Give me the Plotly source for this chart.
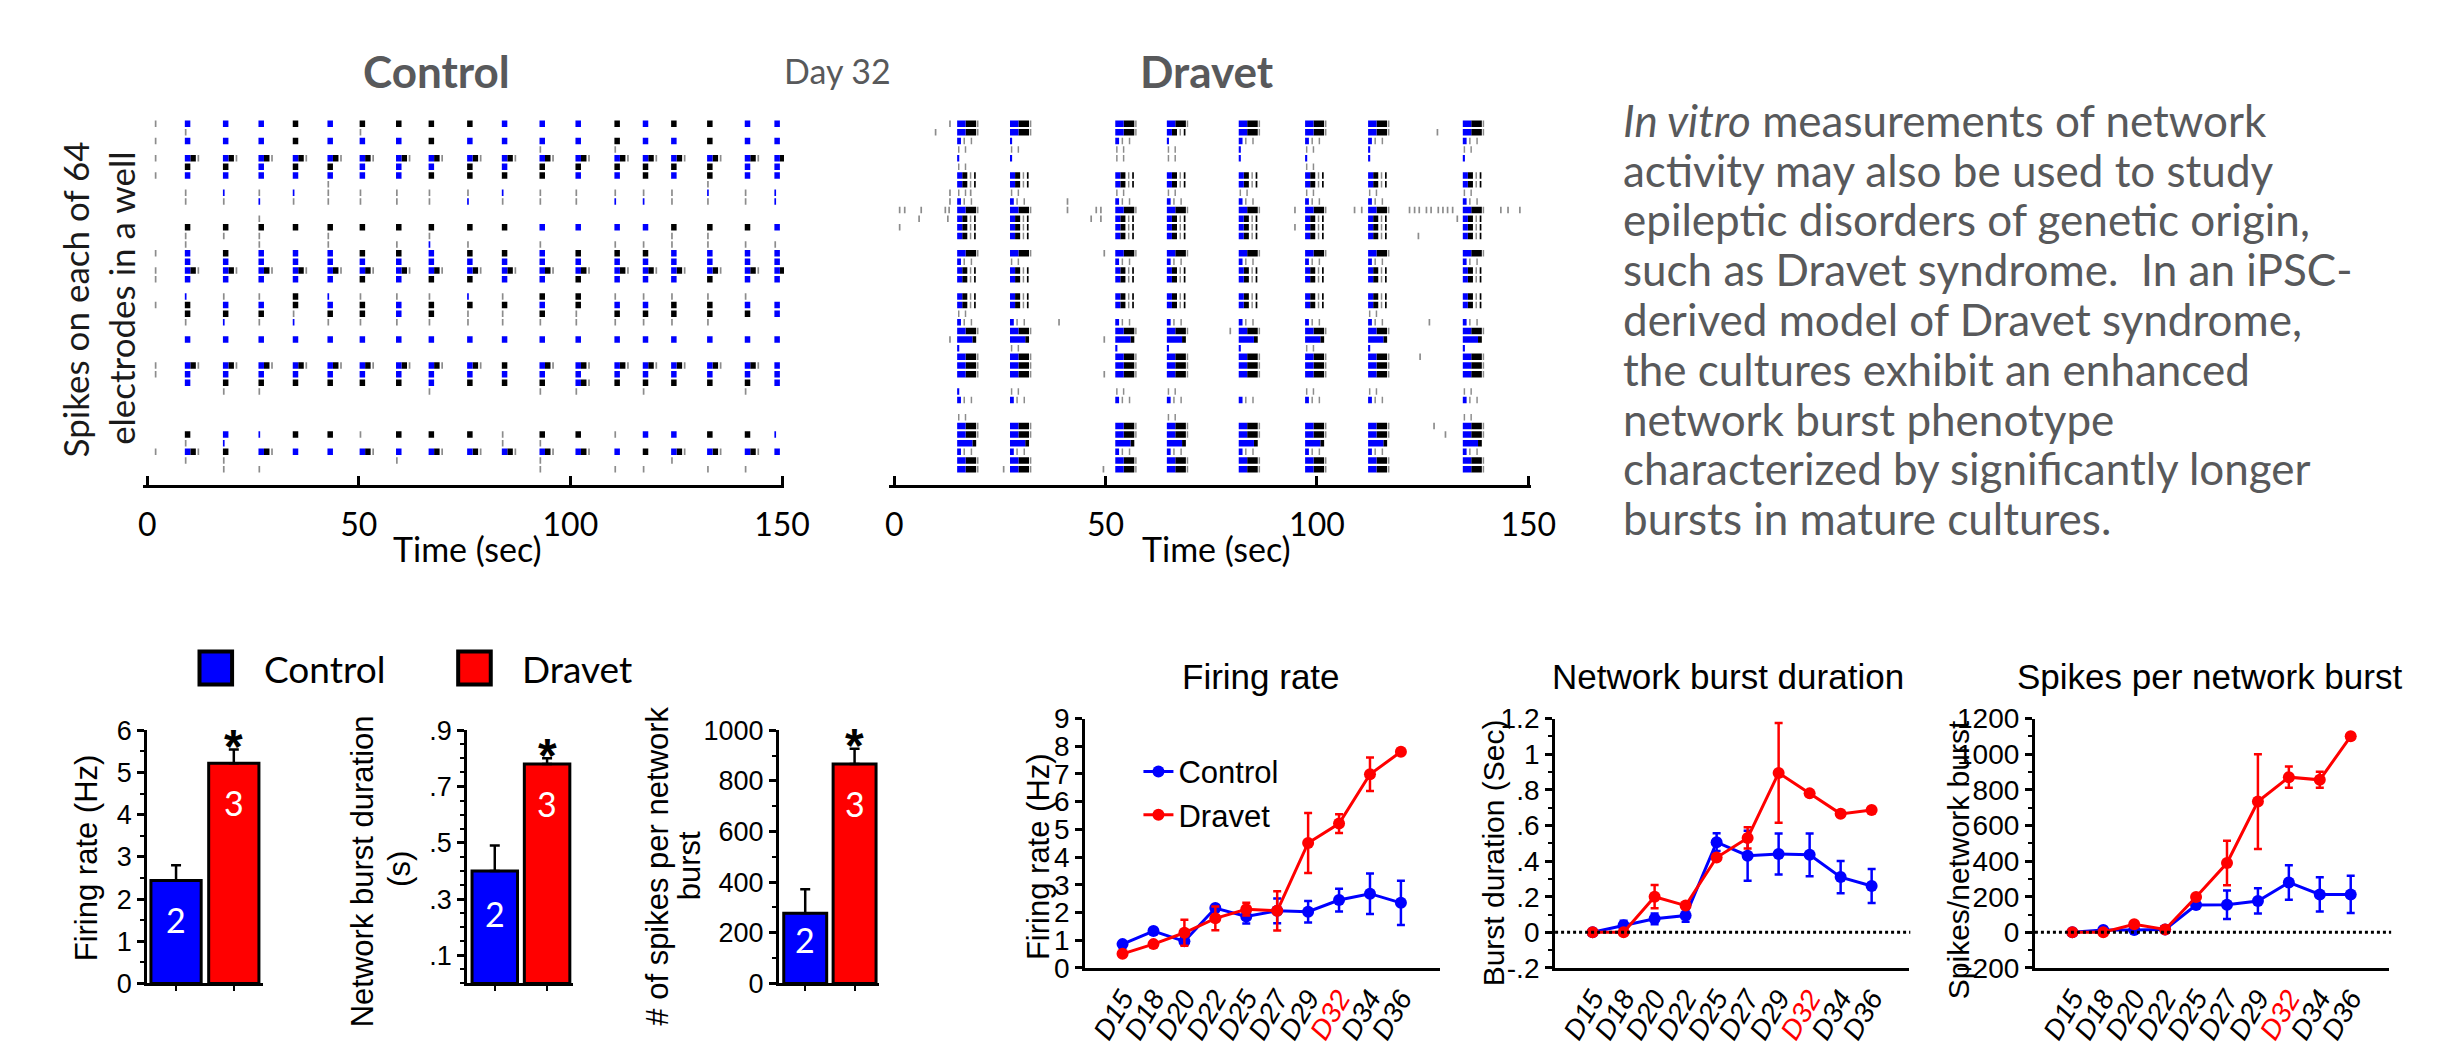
import plotly.graph_objects as go

W, H = 2444, 1048


def px(x):
    return x / W


def py(y):
    return 1 - y / H


# ---------------- data: raster plots ----------------
time_ticks = [0, 50, 100, 150]

control_burst_times = [8.9, 17.9, 26.3, 34.4, 42.6, 50.2, 58.8, 66.5, 75.6, 83.8,
                       92.7, 101.2, 110.4, 117.1, 123.8, 132.3, 141.2, 148.2]
control_rows = [0, 1, 2, 3, 4, 5, 6, 7, 8, 9, 11, 12, 13, 14, 15, 16, 17, 18,
                20, 21, 22, 23, 25, 28, 29, 30, 31, 36, 37, 38, 39, 40]
control_patterns = [
    "BBBKBKKKKBBBKBKKBB",
    "g....g............",
    "BBBKBBBKBBBBKBBKBB",
    "..........g.g.....",
    "MMMMMMMMMMMMMMMMMM",
    "KKBKKBBBKBKKKKKKBB",
    "BBBBBBBKKKKBBKBKBB",
    "....g..........g..",
    "gbgbgggggbgggggbgb",
    "ggbgggggbgggbbgggb",
    "..g...............",
    "KKKKKKKKKKBBBBKKKB",
    "ggg.g..g......gg..",
    "g.g.g.gbg.g.gggggg",
    "BKBBBKKBKKBKKKBBBB",
    "BBBBBBBBBBBBBBBBBB",
    "MMMMMMMMMMMMMMMMMM",
    "BBBBBKBKKBBKBBBKBB",
    "bggKbgggbgKKggggg.",
    "KBBKBKBKKKBKBBKKBB",
    "KKKgKKBKggKgKKKKKB",
    "gbgbgggggggggggg..",
    "BBBBBBBBBBBBBBBBBB",
    "MMMMMMMMMKMMMMMMMB",
    "BBBBBBBBBBBBBBBBBB",
    "BKKKKKKBKKKMKKKKKB",
    ".gg....g..gg.g..g.",
    "KBbKKgKKKgKKgBBKKb",
    "gb.......gg.......",
    "MKMBBMBMMMMMBKMMMB",
    "gg....g...g...g...",
    ".gg.......g.gg.gg.",
]
control_extra_times = [1.8, 1.8, 1.8, 1.8, 1.8, 1.8, 1.8, 1.8, 1.8, 1.8, 1.8]
control_extra_rows = [0, 2, 4, 6, 15, 17, 18, 21, 28, 29, 38]

dravet_burst_times = [14.9, 27.4, 52.3, 64.5, 81.5, 97.2, 112.1, 134.5]
dravet_rows = [0, 1, 2, 3, 4, 5, 6, 7, 8, 9, 10, 11, 12, 13, 15, 16, 17, 18, 20,
               21, 22, 23, 24, 25, 26, 27, 28, 29, 31, 32, 34, 35, 36, 37, 38, 39, 40]
dravet_patterns = [
    "FFFFFFFF", "FFFHFFFF", "LbLbLLLL", "ttttbtbt", "bbttbbbb", "t....t..",
    "HHHHHHHH", "HHHHHHHH", "tttttttt", "LLLLLLLL", "FFFFFFFF", "HHHHHHHH",
    "HHHHHHHH", "HHHHHHHH", "FFFFFFFF", "LtLLLLLL", "HHHHHHHH", "HHHHHHHH",
    "HHHHHHHH", "HHHHHHHH", "t.....t.", "LLLLLLLL", "FFFFFFFF", "XXXXXXXX",
    "btbbbtbb", "FFFFFFFF", "FFFFFFFF", "FFFFFFFF", "bttt.ttt", "LLLLLLLL",
    "t..t...t", "FFFFFFFF", "FFFFFFFF", "XXXXXXXX", "LLLLLLLL", "FFFFFFFF",
    "FFFFFFFF",
]
dravet_extra_times = [1.1, 2.3, 6.2, 11.9, 12.8, 40.8, 47.6, 48.7, 94.6, 108.7, 110.4,
                      121.7, 122.9, 124.0, 125.7, 126.8, 128.5, 129.6, 130.7, 131.9,
                      143.3, 145.0, 147.8, 5.7, 12.5, 46.4, 48.7, 133.0, 1.1, 94.6,
                      13.0, 40.8, 13.0, 17.9, 9.6, 128.3, 13.0, 123.8, 49.5, 38.8,
                      126.4, 79.3, 13.0, 49.5, 124.2, 49.5, 127.5, 130.2, 25.7, 49.3]
dravet_extra_rows = [10, 10, 10, 10, 10, 10, 10, 10, 10, 10, 10,
                     10, 10, 10, 10, 10, 10, 10, 10, 10,
                     10, 10, 10, 11, 11, 11, 11, 11, 12, 12,
                     9, 9, 8, 8, 1, 1, 0, 13, 15, 23,
                     23, 24, 25, 25, 27, 29, 35, 36, 40, 40]

# ---------------- data: bar charts ----------------
groups = ["Control", "Dravet"]
group_n = ["2", "3"]
bar_fr = [2.44, 5.22]
bar_fr_err = [0.36, 0.32]
bar_bd = [0.40, 0.78]
bar_bd_err = [0.09, 0.02]
bar_sp = [277, 867]
bar_sp_err = [95, 60]

# ---------------- data: time courses ----------------
days = ["D15", "D18", "D20", "D22", "D25", "D27", "D29", "D32", "D34", "D36"]
fr_control = [0.86, 1.33, 0.96, 2.16, 1.86, 2.06, 2.03, 2.45, 2.68, 2.35]
fr_control_err = [0.05, 0.05, 0.10, 0.10, 0.26, 0.45, 0.39, 0.41, 0.73, 0.80]
fr_dravet = [0.51, 0.86, 1.27, 1.79, 2.12, 2.06, 4.51, 5.21, 6.99, 7.80]
fr_dravet_err = [0.05, 0.05, 0.47, 0.43, 0.23, 0.71, 1.08, 0.34, 0.60, 0.05]

bd_control = [0.0, 0.04, 0.076, 0.094, 0.506, 0.43, 0.44, 0.435, 0.31, 0.26]
bd_control_err = [0.01, 0.025, 0.03, 0.035, 0.05, 0.14, 0.115, 0.12, 0.09, 0.095]
bd_dravet = [0.0, 0.0, 0.20, 0.15, 0.42, 0.53, 0.895, 0.78, 0.665, 0.687]
bd_dravet_err = [0.005, 0.005, 0.065, 0.01, 0.01, 0.06, 0.28, 0.01, 0.01, 0.015]

sp_control = [0, 13, 13, 16, 153, 155, 176, 280, 213, 213]
sp_control_err = [3, 5, 10, 8, 10, 80, 71, 97, 96, 104]
sp_dravet = [0, 0, 45, 16, 198, 389, 734, 871, 856, 1100]
sp_dravet_err = [2, 2, 10, 5, 10, 125, 266, 60, 45, 5]

highlight_day = "D32"

paragraph_lines = [
    "<i>In vitro</i> measurements of network",
    "activity may also be used to study",
    "epileptic disorders of genetic origin,",
    "such as Dravet syndrome.&nbsp; In an iPSC-",
    "derived model of Dravet syndrome,",
    "the cultures exhibit an enhanced",
    "network burst phenotype",
    "characterized by significantly longer",
    "bursts in mature cultures.",
]

# ---------------- styles ----------------
BLUE = "#0000ff"
RED = "#ff0000"
GRAY_TXT = "#58595b"
COLORS = {"gray": "#8c8c8c", "black": "#000000", "blue": BLUE}
ARIAL = "Liberation Sans, Arial, sans-serif"
CAL = "Lato, sans-serif"

CONTROL_MARKS = {
    "B": [("blue", 0.0, 1.3)],
    "K": [("black", 0.0, 1.3)],
    "M": [("blue", 0.0, 1.3), ("black", 1.3, 2.6), ("gray", 3.0, 3.4)],
    "g": [("gray", 0.0, 0.4)],
    "b": [("blue", 0.0, 0.4)],
}
DRAVET_MARKS = {
    "F": [("blue", 0.0, 2.0), ("black", 2.0, 4.5), ("gray", 4.7, 5.05)],
    "H": [("blue", 0.0, 1.2), ("black", 1.2, 2.4), ("gray", 3.0, 3.35), ("black", 4.0, 4.4)],
    "L": [("blue", 0.0, 0.9), ("gray", 1.5, 1.85), ("gray", 3.2, 3.55)],
    "X": [("blue", 0.0, 3.6), ("black", 3.6, 4.5)],
    "t": [("gray", 0.2, 0.55), ("gray", 1.8, 2.15)],
    "b": [("blue", 0.0, 0.5)],
}


def raster_traces(burst_times, rows, patterns, extra_t, extra_r, marks, xa, ya):
    segs = {"gray": ([], []), "black": ([], []), "blue": ([], [])}
    for r, pat in zip(rows, patterns):
        for t, ch in zip(burst_times, pat):
            for color, a, b in marks.get(ch, []):
                xs, ys = segs[color]
                xs += [t + a, t + b, None]
                ys += [r, r, None]
    for t, r in zip(extra_t, extra_r):
        xs, ys = segs["gray"]
        xs += [t, t + 0.4, None]
        ys += [r, r, None]
    out = []
    for color, (xs, ys) in segs.items():
        out.append(go.Scatter(x=xs, y=ys, mode="lines",
                              line=dict(color=COLORS[color], width=6.5, simplify=False),
                              xaxis=xa, yaxis=ya, showlegend=False, hoverinfo="skip"))
    return out


fig = go.Figure()

for tr in raster_traces(control_burst_times, control_rows, control_patterns,
                        control_extra_times, control_extra_rows, CONTROL_MARKS, "x", "y"):
    fig.add_trace(tr)
for tr in raster_traces(dravet_burst_times, dravet_rows, dravet_patterns,
                        dravet_extra_times, dravet_extra_rows, DRAVET_MARKS, "x2", "y2"):
    fig.add_trace(tr)

# bars
bar_sets = [(bar_fr, bar_fr_err, "x3", "y3"), (bar_bd, bar_bd_err, "x4", "y4"),
            (bar_sp, bar_sp_err, "x5", "y5")]
for vals, errs, xa, ya in bar_sets:
    fig.add_trace(go.Bar(
        x=groups, y=vals, width=0.87,
        marker=dict(color=[BLUE, RED], line=dict(color="black", width=3)),
        error_y=dict(type="data", array=errs, arrayminus=[0, 0], symmetric=False,
                     color="black", thickness=2.5, width=5),
        xaxis=xa, yaxis=ya, showlegend=False, hoverinfo="skip"))

# time courses
line_sets = [
    (fr_control, fr_control_err, fr_dravet, fr_dravet_err, "x6", "y6", True),
    (bd_control, bd_control_err, bd_dravet, bd_dravet_err, "x7", "y7", False),
    (sp_control, sp_control_err, sp_dravet, sp_dravet_err, "x8", "y8", False),
]
for c, ce, d, de, xa, ya, show in line_sets:
    for name, vals, errs, col in [("Control", c, ce, BLUE), ("Dravet", d, de, RED)]:
        fig.add_trace(go.Scatter(
            x=days, y=vals, name=name, mode="lines+markers",
            line=dict(color=col, width=3), marker=dict(color=col, size=12),
            error_y=dict(type="data", array=errs, color=col, thickness=2.5, width=4),
            xaxis=xa, yaxis=ya, showlegend=show, legend="legend", hoverinfo="skip"))

# ---------------- axes ----------------
raster_x = dict(showline=True, linewidth=3, linecolor="black", ticks="inside", ticklen=9,
                tickwidth=3, tickcolor="black", tickvals=time_ticks, showgrid=False,
                zeroline=False, tickfont=dict(family=CAL, size=32, color="black"),
                ticklabelstandoff=10)
raster_y = dict(visible=False, range=[41.8, -0.9], domain=[py(484), py(104)])

bar_x = dict(showline=True, linewidth=3, linecolor="black", ticks="outside", ticklen=5,
             tickwidth=2, tickcolor="black", showticklabels=False, showgrid=False,
             zeroline=False, type="category")
bar_y_common = dict(showline=True, linewidth=3, linecolor="black", ticks="outside",
                    ticklen=7, tickwidth=2.5, tickcolor="black", showgrid=False,
                    zeroline=False, domain=[py(998), py(737)],
                    tickfont=dict(family=ARIAL, size=27, color="black"))

day_text = [f"<span style='color:{RED}'>{d}</span>" if d == highlight_day else d for d in days]
line_x = dict(showline=True, linewidth=3, linecolor="black", ticks="", showgrid=False,
              zeroline=False, type="category", tickvals=days, ticktext=day_text,
              tickangle=-60, tickfont=dict(family=ARIAL, size=28, color="black", style="italic"))
line_y_common = dict(showline=True, linewidth=3, linecolor="black", ticks="outside",
                     ticklen=7, tickwidth=2.5, tickcolor="black", showgrid=False,
                     zeroline=False, domain=[py(982), py(725)],
                     tickfont=dict(family=ARIAL, size=28, color="black"))

fig.update_layout(
    width=W, height=H, margin=dict(l=0, r=0, t=0, b=0), autosize=False,
    paper_bgcolor="white", plot_bgcolor="white",
    xaxis=dict(raster_x, domain=[px(140), px(789)], range=[-0.93, 150.47], anchor="y"),
    yaxis=dict(raster_y, anchor="x"),
    xaxis2=dict(raster_x, domain=[px(895.7), px(1545.3)], range=[-1.14, 150.56], anchor="y2"),
    yaxis2=dict(raster_y, anchor="x2"),
    xaxis3=dict(bar_x, domain=[px(144), px(261)], range=[-0.5, 1.5], anchor="y3"),
    yaxis3=dict(bar_y_common, range=[0, 6], dtick=1, anchor="x3",
                minor=dict(dtick=0.5, ticks="outside", ticklen=4, tickwidth=2, tickcolor="black")),
    xaxis4=dict(bar_x, domain=[px(468), px(575)], range=[-0.53, 1.49], anchor="y4"),
    yaxis4=dict(bar_y_common, range=[0, 0.9], tickvals=[0.1, 0.3, 0.5, 0.7, 0.9],
                ticktext=[".1", ".3", ".5", ".7", ".9"], anchor="x4",
                minor=dict(dtick=0.05, ticks="outside", ticklen=4, tickwidth=2, tickcolor="black")),
    xaxis5=dict(bar_x, domain=[px(784), px(885)], range=[-0.53, 1.49], anchor="y5"),
    yaxis5=dict(bar_y_common, range=[0, 1000], dtick=200, anchor="x5",
                minor=dict(dtick=100, ticks="outside", ticklen=4, tickwidth=2, tickcolor="black")),
    xaxis6=dict(line_x, domain=[px(1094), px(1453)], range=[-1.21, 10.25], anchor="y6"),
    yaxis6=dict(line_y_common, range=[0, 9], dtick=1, anchor="x6"),
    xaxis7=dict(line_x, domain=[px(1570), px(1928)], range=[-1.21, 10.19], anchor="y7"),
    yaxis7=dict(line_y_common, range=[-0.2, 1.2],
                tickvals=[-0.2, 0, 0.2, 0.4, 0.6, 0.8, 1.0, 1.2],
                ticktext=["-.2", "0", ".2", ".4", ".6", ".8", "1", "1.2"], anchor="x7",
                minor=dict(dtick=0.1, ticks="outside", ticklen=4, tickwidth=2, tickcolor="black")),
    xaxis8=dict(line_x, domain=[px(2056), px(2415)], range=[-1.21, 10.25], anchor="y8"),
    yaxis8=dict(line_y_common, range=[-200, 1200], dtick=200, anchor="x8",
                minor=dict(dtick=100, ticks="outside", ticklen=4, tickwidth=2, tickcolor="black")),
    legend=dict(x=px(1148), y=py(752), xanchor="left", yanchor="top",
                bgcolor="rgba(0,0,0,0)", font=dict(family=ARIAL, size=31, color="black"),
                itemsizing="trace", tracegroupgap=0),
)

# dotted zero lines
for xa, ya in [("x7", "y7"), ("x8", "y8")]:
    fig.add_shape(type="line", xref=f"{xa} domain", yref=ya, x0=0, x1=1.005, y0=0, y1=0,
                  line=dict(color="black", width=3, dash="dot"))

# bar legend swatches
for x0, col in [(197, BLUE), (459, RED)]:
    fig.add_shape(type="rect", xref="paper", yref="paper", x0=px(x0), x1=px(x0 + 33),
                  y0=py(690), y1=py(656), fillcolor=col, line=dict(color="black", width=4))

ann = []


def A(text, x, y, size, family=ARIAL, color="black", xanchor="center", yanchor="middle",
      angle=0, **kw):
    ann.append(dict(text=text, x=px(x), y=py(y), xref="paper", yref="paper", showarrow=False,
                    font=dict(family=family, size=size, color=color), xanchor=xanchor,
                    yanchor=yanchor, textangle=angle, **kw))


# top titles
A("<b>Control</b>", 437, 58, 44, family=CAL, color=GRAY_TXT)
A("Day 32", 843, 57, 34, family=CAL, color=GRAY_TXT)
A("<b>Dravet</b>", 1217, 58, 44, family=CAL, color=GRAY_TXT)
A("Spikes on each of 64", 71, 293, 35, family=CAL, color="#1a1a1a", angle=-90)
A("electrodes in a well", 118, 292, 35, family=CAL, color="#1a1a1a", angle=-90)
A("Time (sec)", 468, 550, 34, family=CAL)
A("Time (sec)", 1227, 550, 34, family=CAL)

# paragraph
for k, line in enumerate(paragraph_lines):
    A(line, 1637, 108 + 51.3 * k, 44, family=CAL, color=GRAY_TXT, xanchor="left")

# bar legend text
A("Control", 260, 673, 37, family=CAL, xanchor="left")
A("Dravet", 522, 673, 37, family=CAL, xanchor="left")

# bar y titles
A("Firing rate (Hz)", 82, 868, 31, angle=-90)
A("Network burst duration", 363, 882, 31, angle=-90)
A("(s)", 400, 880, 31, angle=-90)
A("# of spikes per network", 660, 877, 31, angle=-90)
A("burst", 693, 877, 31, angle=-90)

# n labels and asterisks on bars
for (vals, errs, xa, ya) in bar_sets:
    for g, v, n, frac in zip(groups, vals, group_n, [0.62, 0.82]):
        ann.append(dict(text=n, x=g, y=v * frac, xref=xa, yref=ya, showarrow=False,
                        font=dict(family=CAL, size=34, color="white")))
    ann.append(dict(text="<b>*</b>", x=groups[1], y=vals[1] + errs[1], xref=xa, yref=ya,
                    showarrow=False, yanchor="middle", yshift=3,
                    font=dict(family=ARIAL, size=48, color="black")))

# line chart titles
A("Firing rate", 1272, 682, 35)
A("Network burst duration", 1745, 682, 35)
A("Spikes per network burst", 2233, 682, 35)
A("Firing rate (Hz)", 1047, 867, 31, angle=-90)
A("Burst duration (Sec)", 1508, 863, 30, angle=-90)
A("Spikes/network burst", 1978, 870, 30, angle=-90)

fig.update_layout(annotations=ann)

fig.write_html("out.html", config={"displayModeBar": False},
               post_script="document.body.style.margin='0px';")
